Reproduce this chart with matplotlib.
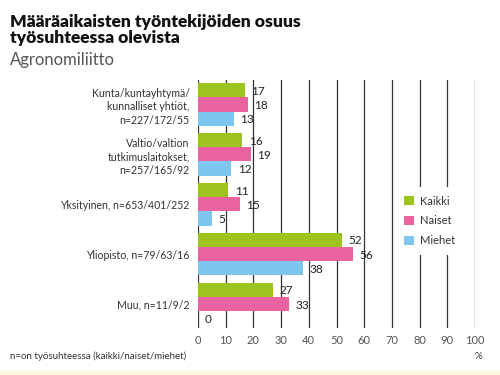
import matplotlib
matplotlib.use("Agg")
import matplotlib.pyplot as plt
import numpy as np
from matplotlib.patches import Rectangle

categories = [
    "Kunta/kuntayhtymä/\nkunnalliset yhtiöt,\nn=227/172/55",
    "Valtio/valtion\ntutkimuslaitokset,\nn=257/165/92",
    "Yksityinen, n=653/401/252",
    "Yliopisto, n=79/63/16",
    "Muu, n=11/9/2",
]
kaikki = [17, 16, 11, 52, 27]
naiset = [18, 19, 15, 56, 33]
miehet = [13, 12, 5, 38, 0]
series_names = ["Kaikki", "Naiset", "Miehet"]
colors = ["#9DC41E", "#E8639F", "#7EC6EE"]
xticks = list(range(0, 101, 10))

plt.rcParams["font.family"] = ["Lato", "DejaVu Sans"]

fig = plt.figure(figsize=(5, 3.75), dpi=100)
ax = fig.add_axes([0.396, 1 - 328 / 375, 0.554, (328 - 80) / 375])

y = np.arange(len(categories))
h = 0.285
for i, (vals, col, name) in enumerate(zip([kaikki, naiset, miehet], colors, series_names)):
    pos = y + (i - 1) * h
    ax.barh(pos, vals, height=h, color=col, label=name, zorder=3)
    for p, v in zip(pos, vals):
        ax.text(v + 2.3, p + 0.02, f"{v}", va="center", ha="left",
                fontsize=8.5, color="#222222", zorder=4)

ax.set_xlim(0, 100)
ax.set_ylim(4.48, -0.49)
for xv in xticks:
    ax.axvline(xv, color="#333333", lw=0.9, zorder=1)
ax.set_xticks(xticks)
ax.set_xticklabels([str(t) for t in xticks], fontsize=8, color="#555555")
ax.tick_params(axis="x", length=0, pad=5)
ax.set_yticks(y)
ax.set_yticklabels(categories, fontsize=7.6, color="#333333", linespacing=1.3)
ax.tick_params(axis="y", length=0, pad=6)
for s in ax.spines.values():
    s.set_visible(False)

# legend with white background hiding grid lines 80 and 90
leg = ax.legend(loc="upper left", bbox_to_anchor=(0.712, 0.57), frameon=True,
                fontsize=8, handlelength=0.9, handleheight=0.9,
                handletextpad=0.5, labelspacing=0.8, borderpad=0.8,
                borderaxespad=0)
leg.get_frame().set_edgecolor("none")
leg.get_frame().set_facecolor("white")
leg.get_frame().set_alpha(1)
leg.set_zorder(5)
for t in leg.get_texts():
    t.set_color("#333333")

fig.text(0.02, 0.962, "Määräaikaisten työntekijöiden osuus\ntyösuhteessa olevista",
         fontsize=12.5, fontweight="heavy", va="top", ha="left", color="#111111",
         linespacing=1.0)
fig.text(0.02, 0.84, "Agronomiliitto", fontsize=12, va="center", ha="left",
         color="#555555")
fig.text(0.02, 0.05, "n=on työsuhteessa (kaikki/naiset/miehet)", fontsize=7,
         va="center", ha="left", color="#333333")
fig.text(0.957, 0.05, "%", fontsize=7, va="center", ha="center", color="#333333")

fig.patches.append(Rectangle((0, 0), 1, 0.012, transform=fig.transFigure,
                             color="#FCF5E2", zorder=0))

fig.savefig("out.png", dpi=100)
plt.close(fig)
